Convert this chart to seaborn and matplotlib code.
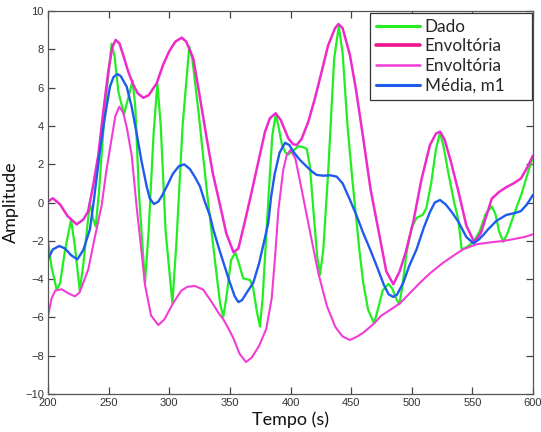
import matplotlib
matplotlib.use("Agg")
import matplotlib.pyplot as plt
import seaborn as sns
import numpy as np

# ---- data ----
dado_t = [200, 203, 207.2, 210, 214, 219, 222, 226.2, 229, 234.5, 237, 239.3, 242, 247, 252.5, 255, 258,
          262.7, 265.5, 269.8, 272, 275, 280, 283, 287, 290.2, 293, 297, 302.6, 306, 311, 316.5, 319, 324,
          331, 338, 342, 344.6, 347, 351, 354.5, 357, 361, 366.6, 369, 372, 374.8, 377, 381.7, 385, 387.8,
          390, 393, 396, 398.2, 402, 406.4, 410, 413.4, 416, 419, 422, 424.3, 427, 431, 436, 439.8, 443,
          447, 451, 454, 457, 460, 464, 468.9, 472, 476, 480.7, 484, 487, 489.7, 492, 496, 500, 504, 509,
          512, 516, 520, 523.3, 526, 530, 535, 538.4, 541.2, 546, 551, 556, 561, 566, 569, 572, 575.5, 579,
          585, 590.7, 595, 600]
dado_v = [-2.0, -3.4, -4.57, -4.2, -2.5, -0.9, -2.2, -4.6, -3.3, 0.0, -0.8, -1.25, 0.5, 5.0, 8.3, 7.6, 5.8,
          4.6, 5.3, 6.36, 5.0, 0.5, -4.19, -1.5, 3.5, 6.22, 4.0, -1.5, -5.27, -2.0, 4.0, 8.14, 7.5, 4.8,
          0.6, -3.2, -5.3, -5.96, -5.0, -3.0, -2.62, -3.1, -3.96, -4.05, -4.4, -5.6, -6.48, -5.0, 0.13, 3.5, 4.6,
          4.0, 3.0, 2.6, 2.5, 2.7, 2.93, 2.9, 2.8, 1.9, -0.5, -2.8, -3.77, -2.5, 1.5, 7.5, 9.2, 7.8,
          4.0, 1.2, -0.7, -2.6, -4.19, -5.6, -6.31, -5.6, -4.6, -4.25, -4.5, -5.0, -5.32, -4.5, -2.5, -1.3, -0.8, -0.65,
          -0.3, 1.0, 2.8, 3.65, 3.0, 1.6, 0.0, -0.9, -2.45, -2.3, -2.05, -1.5, -0.6, -0.2, -0.6, -1.5, -2.05, -1.6,
          -0.5, 0.48, 1.4, 2.4]

sup_t = [200, 204, 210, 216, 223.6, 229, 233, 237, 241.5, 245.5, 249.7, 253, 255.8, 259, 262, 266.2, 270,
         274, 278.6, 283, 289.6, 295, 300, 305, 310.3, 314, 319.8, 325, 330.9, 336, 341.9, 347, 353, 357,
         362, 368, 373, 379, 383, 387.8, 392, 398.2, 402, 405.1, 409, 414.7, 420, 425.7, 431, 436.7, 439.5,
         443, 449, 454, 460, 466, 473.8, 479, 484.8, 490, 495, 501.3, 508, 515, 520, 523.3, 527, 532, 538.4,
         545, 551.6, 557, 561, 566, 572, 578, 584, 590, 595, 600]
sup_v = [0.05, 0.22, -0.1, -0.7, -1.14, -0.9, -0.48, 0.8, 2.48, 4.7, 6.83, 8.1, 8.49, 8.3, 7.7, 6.83, 6.2,
         5.7, 5.47, 5.6, 6.22, 7.2, 7.9, 8.4, 8.61, 8.4, 7.53, 5.6, 3.35, 1.5, -0.13, -1.6, -2.6, -2.4,
         -1.1, 0.56, 2.0, 3.70, 4.4, 4.66, 4.3, 3.35, 3.05, 3.0, 3.3, 4.22, 5.4, 6.83, 8.2, 9.1, 9.32,
         9.1, 7.70, 5.9, 3.35, 0.7, -1.87, -3.6, -4.27, -3.6, -2.6, -1.0, 1.2, 3.0, 3.6, 3.70, 3.3, 2.2, 0.6,
         -1.2, -2.08, -1.6, -0.8, 0.2, 0.55, 0.8, 1.0, 1.25, 1.8, 2.45]

inf_t = [200, 203, 206, 211.3, 217, 222.3, 226, 229.1, 233.2, 238, 244.3, 248, 252.5, 255.5, 258.8, 262, 265,
         269, 273.1, 277, 280, 285, 291, 296, 303.4, 310, 315, 321.2, 328, 335, 341, 344.6, 349, 353, 358,
         363.3, 368, 374, 380, 384.5, 387.2, 390, 394, 397, 400, 404, 409, 416, 423, 430, 437, 443, 449,
         455, 460, 465.6, 470, 475, 480, 490.3, 506.8, 515, 526, 535, 542.5, 553.6, 565, 575.5, 585, 593, 600]
inf_v = [-5.93, -5.0, -4.6, -4.53, -4.75, -4.9, -4.7, -4.19, -3.5, -2.0, -0.13, 1.6, 3.35, 4.5, 5.0, 4.7, 3.9,
         2.48, -0.22, -2.5, -4.3, -5.9, -6.4, -6.1, -5.23, -4.6, -4.4, -4.36, -4.55, -5.2, -5.8, -6.1, -6.6, -7.1, -7.9,
         -8.33, -8.1, -7.5, -6.6, -5.0, -2.9, -0.4, 1.7, 2.5, 2.74, 2.3, 0.74, -1.5, -3.7, -5.4, -6.5, -7.0, -7.18,
         -7.0, -6.8, -6.5, -6.25, -5.9, -5.7, -5.26, -4.19, -3.7, -3.14, -2.75, -2.44, -2.18, -2.08, -2.01, -1.9, -1.8, -1.66]

media_t = [200, 204, 209.3, 214, 219, 224.2, 229, 234.6, 238, 242.9, 247, 251.1, 254, 257.2, 260, 264.9, 269,
           273.1, 277, 281.4, 284, 287.4, 291, 294, 297.9, 303, 308, 312.4, 317, 321, 325.4, 329, 333.6, 336.3,
           341, 345, 350.1, 354, 357, 360, 364, 369.3, 374, 378, 381.7, 384, 387, 391, 395.5, 399, 403, 407.8,
           413, 418, 421.6, 427, 433, 438.1, 443, 449.1, 454.6, 460, 466, 471.1, 477, 481, 484.8, 488, 493, 498,
           504, 510, 515, 519, 523.3, 528, 533, 538.4, 545, 550.8, 555, 559, 563, 570, 578, 585, 590, 595, 600]
media_v = [-2.95, -2.45, -2.27, -2.4, -2.75, -2.97, -2.5, -1.4, 0.2, 2.74, 4.5, 6.05, 6.55, 6.71, 6.6, 6.05, 5.0,
           3.61, 2.2, 0.83, 0.2, -0.08, 0.05, 0.35, 0.83, 1.5, 1.9, 1.99, 1.75, 1.35, 0.83, 0.1, -0.70, -1.4,
           -2.4, -3.2, -4.2, -4.9, -5.20, -5.1, -4.7, -4.19, -3.2, -2.1, -1.05, 0.3, 1.5, 2.6, 3.12, 3.0, 2.6, 2.22,
           1.9, 1.6, 1.44, 1.4, 1.42, 1.35, 1.0, 0.13, -0.70, -1.6, -2.5, -3.32, -4.3, -4.8, -4.93, -4.8, -4.19, -3.3,
           -2.44, -1.3, -0.5, 0.0, 0.13, -0.1, -0.5, -1.0, -1.8, -2.13, -1.95, -1.7, -1.4, -0.95, -0.65, -0.55, -0.45, -0.1, 0.4]

labels = ["Dado", "Envoltória", "Envoltória", "Média, m1"]
x_ticks = [200, 250, 300, 350, 400, 450, 500, 550, 600]
y_ticks = [-10, -8, -6, -4, -2, 0, 2, 4, 6, 8, 10]

# ---- style ----
sns.set_theme(style="ticks")
plt.rcParams['font.family'] = ['Liberation Sans', 'DejaVu Sans']

fig = plt.figure(figsize=(5.41, 4.32), dpi=100)
ax = fig.add_axes([48/541, 1-394/432, (533-48)/541, (394-11)/432])

sns.lineplot(x=dado_t, y=dado_v, ax=ax, color='#22EE22', lw=1.6, sort=False, estimator=None, label=labels[0])
sns.lineplot(x=sup_t, y=sup_v, ax=ax, color='#EE2ACB', lw=1.8, sort=False, estimator=None, label=labels[1])
sns.lineplot(x=inf_t, y=inf_v, ax=ax, color='#F23CD6', lw=1.5, sort=False, estimator=None, label=labels[2])
sns.lineplot(x=media_t, y=media_v, ax=ax, color='#1F5BEF', lw=1.7, sort=False, estimator=None, label=labels[3])

ax.set_xlim(200, 600)
ax.set_ylim(-10, 10)
ax.set_xticks(x_ticks)
ax.set_yticks(y_ticks)
ax.tick_params(which='major', direction='in', length=5, width=0.9,
               bottom=True, left=True, top=True, right=True,
               labelsize=8, color='#444444', labelcolor='#333333', pad=3)
for s in ax.spines.values():
    s.set_visible(True)
    s.set_color('#555555')
    s.set_linewidth(0.9)

ax.set_xlabel("Tempo (s)", fontsize=13, family=['Lato', 'DejaVu Sans'], color='#111111', labelpad=2)
ax.set_ylabel("Amplitude", fontsize=13, family=['Lato', 'DejaVu Sans'], color='#111111', labelpad=4)

leg = ax.legend(loc='upper left', bbox_to_anchor=(0.664, 0.5, 0.334, 0.496), mode='expand',
                borderaxespad=0,
                prop={'family': ['Lato', 'DejaVu Sans'], 'size': 12.3},
                frameon=True, fancybox=False, framealpha=1, edgecolor='#333333',
                handlelength=2.6, handletextpad=0.25, labelspacing=0.22, borderpad=0.35)
leg.get_frame().set_linewidth(0.9)
hcols = ['#22EE22', '#F0148C', '#F23CD6', '#1F5BEF']
hlw = [2.2, 2.6, 1.8, 2.2]
for h, c, w in zip(leg.get_lines(), hcols, hlw):
    h.set_color(c)
    h.set_linewidth(w)

fig.savefig("out.png", dpi=100)
